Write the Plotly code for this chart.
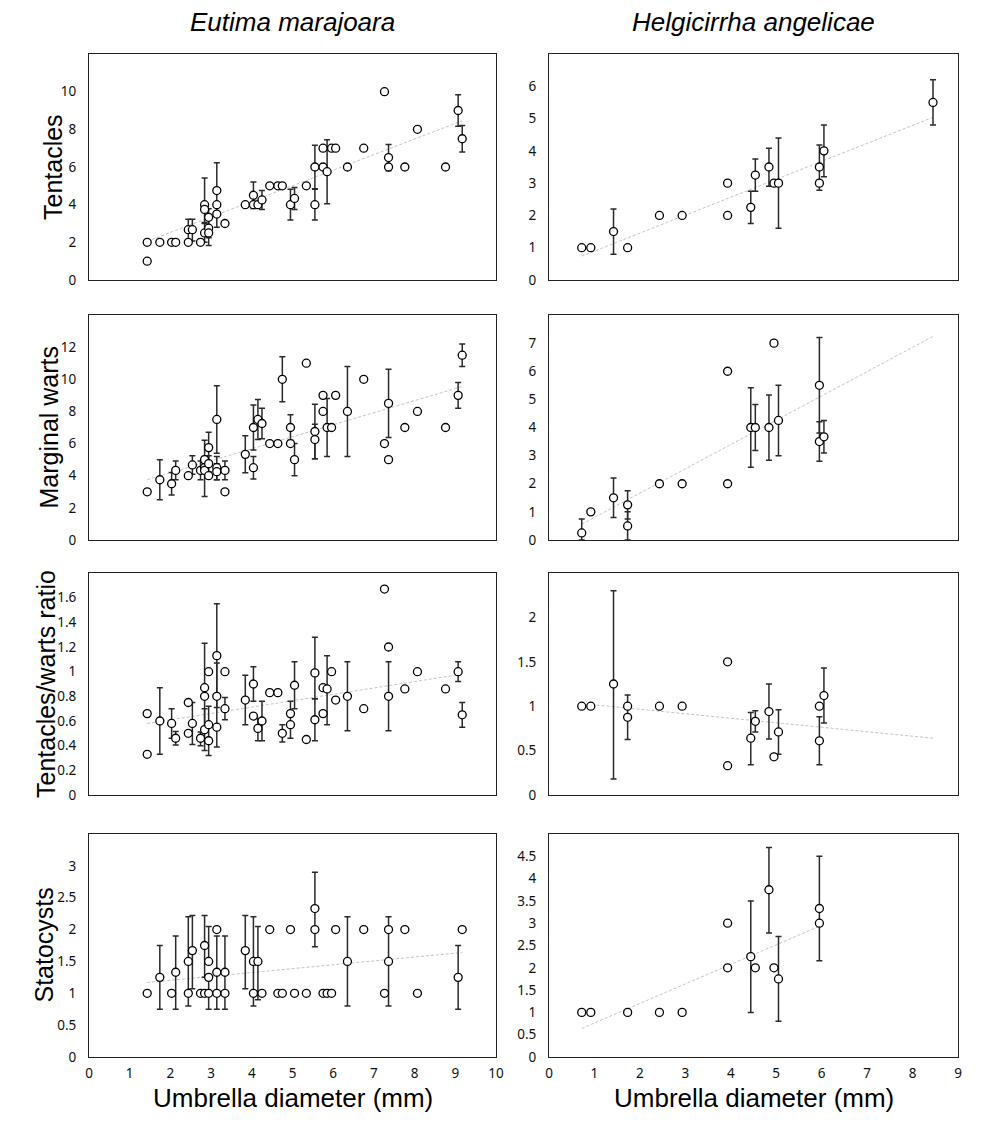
import plotly.graph_objects as go
import numpy as np

# ----------------------------- DATA -----------------------------
SPECIES = ["Eutima marajoara", "Helgicirrha angelicae"]
VARIABLES = ["Tentacles", "Marginal warts", "Tentacles/warts ratio", "Statocysts"]
X_TITLE = "Umbrella diameter (mm)"

# Eutima marajoara ------------------------------------------------
EM_TENT_X = [1.43, 1.43, 1.74, 2.03, 2.13, 2.44, 2.44, 2.54, 2.74, 2.84, 2.84, 2.84, 2.94, 2.94, 2.94,
             3.14, 3.14, 3.14, 3.34, 3.84, 4.04, 4.04, 4.15, 4.25, 4.44, 4.64, 4.75, 4.95, 5.05, 5.34,
             5.55, 5.55, 5.75, 5.75, 5.85, 5.96, 6.06, 6.35, 6.75, 7.26, 7.36, 7.36, 7.76, 8.07, 8.76,
             9.07, 9.17]
EM_TENT_Y = [2, 1, 2, 2, 2, 2, 2.67, 2.67, 2, 4, 3.75, 2.5, 3.33, 2.75, 2.5,
             4.75, 4, 3.5, 3, 4, 4.5, 4, 4, 4.25, 5, 5, 5, 4, 4.33, 5,
             6, 4, 7, 6, 5.75, 7, 7, 6, 7, 10, 6.5, 6, 6, 8, 6,
             9, 7.5]
EM_TENT_EP = [0, 0, 0, 0, 0, 0, 0.55, 0.55, 0, 0, 1.67, 0.55, 0.45, 0.5, 0,
              1.47, 0, 0.6, 0, 0, 0.7, 0, 0, 0.5, 0, 0, 0, 0.82, 0.58, 0,
              1.15, 0.82, 0, 0, 1.7, 0, 0, 0, 0, 0, 0.7, 0, 0, 0, 0,
              0.83, 0.7]
EM_TENT_EM = [0, 0, 0, 0, 0, 0, 0.67, 0.6, 0, 0, 0.75, 0.5, 1.5, 0.5, 0,
              0.8, 0, 0.7, 0, 0, 0.7, 0, 0, 0.5, 0, 0, 0, 0.82, 0.58, 0,
              1.15, 0.82, 0, 0, 1.7, 0, 0, 0, 0, 0, 0.7, 0, 0, 0, 0,
              0.83, 0.7]

EM_WART_X = [1.43, 1.74, 2.03, 2.13, 2.44, 2.54, 2.74, 2.84, 2.84, 2.84, 2.94, 2.94, 2.94,
             3.14, 3.14, 3.14, 3.34, 3.34, 3.84, 4.04, 4.04, 4.15, 4.25, 4.44, 4.64, 4.75,
             4.95, 4.95, 5.05, 5.34, 5.55, 5.55, 5.75, 5.75, 5.85, 5.96, 6.06, 6.35, 6.75,
             7.26, 7.36, 7.36, 7.76, 8.07, 8.76, 9.07, 9.17]
EM_WART_Y = [3, 3.75, 3.5, 4.33, 4, 4.67, 4.33, 5, 4.5, 4.33, 5.75, 4.75, 4,
             7.5, 4.5, 4.25, 4.33, 3, 5.33, 7, 4.5, 7.5, 7.25, 6, 6, 10,
             7, 6, 5, 11, 6.75, 6.25, 9, 8, 7, 7, 9, 8, 10,
             6, 8.5, 5, 7, 8, 7, 9, 11.5]
EM_WART_EP = [0, 1.25, 0.7, 0.58, 0, 0.58, 0.58, 1.2, 0.7, 0, 0.95, 0.5, 0,
              2.1, 0.7, 0.5, 0.58, 0, 1.15, 1.4, 0.7, 1.25, 0.95, 0, 0, 1.4,
              0.8, 0, 1.0, 0, 1.7, 0.95, 0, 0, 1.8, 0, 0, 2.8, 0,
              0, 2.12, 0, 0, 0, 0, 0.8, 0.7]
EM_WART_EM = [0, 1.25, 0.7, 0.58, 0, 0.58, 0.58, 0.25, 1.8, 0, 0.95, 0.5, 0,
              2.1, 0.75, 0.5, 0.58, 0, 1.15, 1.4, 0.7, 1.25, 0.95, 0, 0, 1.4,
              0.8, 0, 1.0, 0, 1.7, 1.2, 0, 0, 1.8, 0, 0, 2.8, 0,
              0, 2.12, 0, 0, 0, 0, 0.8, 0.7]

EM_RAT_X = [1.43, 1.43, 1.74, 2.03, 2.13, 2.44, 2.44, 2.54, 2.74, 2.84, 2.84, 2.84, 2.94, 2.94, 2.94,
            3.14, 3.14, 3.14, 3.34, 3.34, 3.84, 4.04, 4.04, 4.15, 4.25, 4.44, 4.64, 4.75, 4.95, 4.95,
            5.05, 5.34, 5.55, 5.55, 5.75, 5.75, 5.85, 5.96, 6.06, 6.35, 6.75, 7.26, 7.36, 7.36, 7.76,
            8.07, 8.76, 9.07, 9.17]
EM_RAT_Y = [0.66, 0.33, 0.6, 0.58, 0.46, 0.75, 0.5, 0.58, 0.46, 0.87, 0.8, 0.53, 1.0, 0.57, 0.44,
            1.13, 0.8, 0.55, 1.0, 0.7, 0.77, 0.9, 0.64, 0.54, 0.6, 0.83, 0.83, 0.5, 0.66, 0.57,
            0.89, 0.45, 0.99, 0.61, 0.87, 0.66, 0.86, 1.0, 0.77, 0.8, 0.7, 1.67, 1.2, 0.8, 0.86,
            1.0, 0.86, 1.0, 0.65]
EM_RAT_EP = [0, 0, 0.27, 0.12, 0.055, 0, 0, 0.17, 0.05, 0.36, 0, 0.17, 0, 0.15, 0,
             0.42, 0.27, 0, 0, 0.09, 0.2, 0.14, 0, 0.08, 0.16, 0, 0, 0.07, 0.1, 0,
             0.19, 0, 0.29, 0.17, 0, 0, 0.27, 0, 0, 0.28, 0, 0, 0, 0.28, 0,
             0, 0, 0.08, 0.1]
EM_RAT_EM = [0, 0, 0.27, 0.12, 0.055, 0, 0, 0.17, 0.06, 0.36, 0, 0.17, 0, 0.25, 0,
             0.42, 0.41, 0, 0, 0.09, 0.2, 0.14, 0, 0.1, 0.16, 0, 0, 0.07, 0.1, 0.11,
             0.19, 0, 0.21, 0.17, 0, 0, 0.29, 0, 0, 0.28, 0, 0, 0, 0.28, 0,
             0, 0, 0.08, 0.1]

EM_STAT_X = [1.43, 1.74, 2.03, 2.13, 2.44, 2.44, 2.54, 2.74, 2.84, 2.84, 2.94, 2.94, 2.94,
             3.14, 3.14, 3.14, 3.34, 3.34, 3.84, 4.04, 4.04, 4.15, 4.25, 4.44, 4.64, 4.75,
             4.95, 5.05, 5.34, 5.55, 5.55, 5.75, 5.85, 5.96, 6.06, 6.35, 6.75, 7.26, 7.36,
             7.36, 7.76, 8.07, 9.07, 9.17]
EM_STAT_Y = [1, 1.25, 1, 1.33, 1.5, 1, 1.67, 1, 1.75, 1, 1.5, 1.25, 1,
             2, 1.33, 1, 1.33, 1, 1.67, 1.5, 1, 1.5, 1, 2, 1, 1,
             2, 1, 1, 2.33, 2, 1, 1, 1, 2, 1.5, 2, 1, 2,
             1.5, 2, 1, 1.25, 2]
EM_STAT_EP = [0, 0.5, 0, 0.57, 0.7, 0, 0.55, 0, 0.47, 0, 0.55, 0, 0,
              0, 0.57, 0, 0.57, 0, 0.55, 0.7, 0, 0.55, 0, 0, 0, 0,
              0, 0, 0, 0.57, 0, 0, 0, 0, 0, 0.7, 0, 0, 0,
              0.7, 0, 0, 0.5, 0]
EM_STAT_EM = [0, 0.5, 0, 0.58, 0.7, 0, 0.6, 0, 0.5, 0, 0, 0.5, 0,
              0, 0.58, 0, 0.58, 0, 0.6, 0.7, 0, 0.6, 0, 0, 0, 0,
              0, 0, 0, 0.6, 0, 0, 0, 0, 0, 0.7, 0, 0, 0,
              0.7, 0, 0, 0.5, 0]

# Helgicirrha angelicae -------------------------------------------
HA_TENT_X = [0.72, 0.92, 1.42, 1.73, 2.43, 2.93, 3.93, 3.93, 4.44, 4.54, 4.84, 4.95, 5.05, 5.95, 5.95, 6.05, 8.45]
HA_TENT_Y = [1, 1, 1.5, 1, 2, 2, 3, 2, 2.25, 3.25, 3.5, 3, 3, 3.5, 3, 4, 5.5]
HA_TENT_EP = [0, 0, 0.7, 0, 0, 0, 0, 0, 0.5, 0.5, 0.58, 0, 1.4, 0.68, 0, 0.8, 0.7]
HA_TENT_EM = [0, 0, 0.7, 0, 0, 0, 0, 0, 0.5, 0.5, 0.6, 0, 1.4, 0.72, 0, 0.8, 0.7]

HA_WART_X = [0.72, 0.92, 1.42, 1.73, 1.73, 2.43, 2.93, 3.93, 3.93, 4.44, 4.54, 4.84, 4.95, 5.05, 5.95, 5.95, 6.05]
HA_WART_Y = [0.25, 1, 1.5, 1.25, 0.5, 2, 2, 6, 2, 4, 4, 4, 7, 4.25, 5.5, 3.5, 3.67]
HA_WART_EP = [0.5, 0, 0.7, 0.5, 0.5, 0, 0, 0, 0, 1.41, 0.82, 1.16, 0, 1.25, 1.7, 0.7, 0.58]
HA_WART_EM = [0.25, 0, 0.7, 0.5, 0.5, 0, 0, 0, 0, 1.41, 0.82, 1.16, 0, 1.25, 1.7, 0.7, 0.58]

HA_RAT_X = [0.72, 0.92, 1.42, 1.73, 1.73, 2.43, 2.93, 3.93, 3.93, 4.44, 4.54, 4.84, 4.95, 5.05, 5.95, 5.95, 6.05]
HA_RAT_Y = [1, 1, 1.25, 1.0, 0.875, 1, 1, 1.5, 0.33, 0.64, 0.83, 0.94, 0.43, 0.71, 1.0, 0.61, 1.12]
HA_RAT_EP = [0, 0, 1.05, 0, 0.25, 0, 0, 0, 0, 0.29, 0.12, 0.31, 0, 0.25, 0, 0.27, 0.31]
HA_RAT_EM = [0, 0, 1.07, 0, 0.25, 0, 0, 0, 0, 0.3, 0.12, 0.31, 0, 0.25, 0, 0.27, 0.31]

HA_STAT_X = [0.72, 0.92, 1.73, 2.43, 2.93, 3.93, 3.93, 4.44, 4.54, 4.84, 4.95, 5.05, 5.95, 5.95]
HA_STAT_Y = [1, 1, 1, 1, 1, 3, 2, 2.25, 2, 3.75, 2, 1.75, 3.33, 3]
HA_STAT_EP = [0, 0, 0, 0, 0, 0, 0, 1.25, 0, 0.95, 0, 0.95, 1.17, 0]
HA_STAT_EM = [0, 0, 0, 0, 0, 0, 0, 1.25, 0, 0.97, 0, 0.95, 1.17, 0]

# Linear trend lines (slope, intercept)
EM_TREND = [(0.827, 0.87), (0.749, 2.68), (0.0517, 0.506), (0.0607, 1.083)]
HA_TREND = [(0.556, 0.34), (0.864, -0.062), (-0.0505, 1.066), (0.438, 0.325)]

# Axis ranges and tick labels
EM_X_TICKS = [0, 1, 2, 3, 4, 5, 6, 7, 8, 9, 10]
HA_X_TICKS = [0, 1, 2, 3, 4, 5, 6, 7, 8, 9]
EM_Y_MAX = [12, 14, 1.8, 3.5]
HA_Y_MAX = [7, 8, 2.5, 5]
EM_Y_TICKS = [[0, 2, 4, 6, 8, 10], [0, 2, 4, 6, 8, 10, 12],
              [0, 0.2, 0.4, 0.6, 0.8, 1, 1.2, 1.4, 1.6], [0, 0.5, 1, 1.5, 2, 2.5, 3]]
EM_Y_LABELS = [["0", "2", "4", "6", "8", "10"], ["0", "2", "4", "6", "8", "10", "12"],
               ["0", "0.2", "0.4", "0.6", "0.8", "1", "1.2", "1.4", "1.6"],
               ["0", "0.5", "1", "1.5", "2", "2.5", "3"]]
HA_Y_TICKS = [[0, 1, 2, 3, 4, 5, 6], [0, 1, 2, 3, 4, 5, 6, 7],
              [0, 0.5, 1, 1.5, 2], [0, 0.5, 1, 1.5, 2, 2.5, 3, 3.5, 4, 4.5]]
HA_Y_LABELS = [["0", "1", "2", "3", "4", "5", "6"], ["0", "1", "2", "3", "4", "5", "6", "7"],
               ["0", "0.5", "1", "1.5", "2"],
               ["0", "0.5", "1", "1.5", "2", "2.5", "3", "3.5", "4", "4.5"]]

# ----------------------------- FIGURE -----------------------------
W, H = 998, 1129
COLS = [(89, 496), (549, 958)]
ROWS = [(54, 280), (315, 540), (573, 795), (834, 1057)]
YTITLE_X = [53, 49, 46, 43]

panels = {
    0: [(EM_TENT_X, EM_TENT_Y, EM_TENT_EP, EM_TENT_EM),
        (EM_WART_X, EM_WART_Y, EM_WART_EP, EM_WART_EM),
        (EM_RAT_X, EM_RAT_Y, EM_RAT_EP, EM_RAT_EM),
        (EM_STAT_X, EM_STAT_Y, EM_STAT_EP, EM_STAT_EM)],
    1: [(HA_TENT_X, HA_TENT_Y, HA_TENT_EP, HA_TENT_EM),
        (HA_WART_X, HA_WART_Y, HA_WART_EP, HA_WART_EM),
        (HA_RAT_X, HA_RAT_Y, HA_RAT_EP, HA_RAT_EM),
        (HA_STAT_X, HA_STAT_Y, HA_STAT_EP, HA_STAT_EM)],
}
trends = {0: EM_TREND, 1: HA_TREND}
# x-span of each trend line (E. marajoara uses the panel data; H. angelicae warts/ratio span all specimens)
trend_span_src = {0: [EM_TENT_X, EM_WART_X, EM_RAT_X, EM_STAT_X],
                  1: [HA_TENT_X, HA_TENT_X, HA_TENT_X, HA_STAT_X]}
x_ticks = {0: EM_X_TICKS, 1: HA_X_TICKS}
y_max = {0: EM_Y_MAX, 1: HA_Y_MAX}
y_ticks = {0: EM_Y_TICKS, 1: HA_Y_TICKS}
y_labels = {0: EM_Y_LABELS, 1: HA_Y_LABELS}

fig = go.Figure()
layout = {}
TICK_FONT = dict(family="Noto Sans", size=13.5, color="#111")
ERR_COLOR = "#2a2a2a"

for c in range(2):
    for r in range(4):
        k = r * 2 + c + 1
        xa = "x" if k == 1 else f"x{k}"
        ya = "y" if k == 1 else f"y{k}"
        xs, ys, ep, em = [np.array(a, dtype=float) for a in panels[c][r]]
        slope, icpt = trends[c][r]
        span = np.array(trend_span_src[c][r], dtype=float)
        tx = np.array([span.min(), span.max()])
        fig.add_trace(go.Scatter(x=tx, y=slope * tx + icpt, mode="lines", xaxis=xa, yaxis=ya,
                                 line=dict(color="#c4c4c4", width=1, dash="3px,2px"),
                                 hoverinfo="skip", showlegend=False))
        m = (ep > 0) | (em > 0)
        fig.add_trace(go.Scatter(x=xs[m], y=ys[m], mode="markers", xaxis=xa, yaxis=ya,
                                 marker=dict(size=1, color="rgba(0,0,0,0)"),
                                 error_y=dict(type="data", symmetric=False, array=ep[m], arrayminus=em[m],
                                              color=ERR_COLOR, thickness=1.5, width=3),
                                 hoverinfo="skip", showlegend=False))
        fig.add_trace(go.Scatter(x=xs, y=ys, mode="markers", xaxis=xa, yaxis=ya,
                                 marker=dict(size=8, color="white", line=dict(color="black", width=1.3)),
                                 showlegend=False))
        x0, x1 = COLS[c]
        y0, y1 = ROWS[r]
        xt = x_ticks[c]
        layout["xaxis" if k == 1 else f"xaxis{k}"] = dict(
            domain=[x0 / W, x1 / W], range=[xt[0], xt[-1]], anchor=ya,
            tickmode="array", tickvals=xt, ticktext=[str(v) for v in xt],
            showticklabels=(r == 3), ticks="", showgrid=False, zeroline=False,
            showline=True, mirror=True, linecolor="#222", linewidth=1,
            tickfont=TICK_FONT, ticklabelstandoff=4, automargin=False)
        layout["yaxis" if k == 1 else f"yaxis{k}"] = dict(
            domain=[1 - y1 / H, 1 - y0 / H], range=[0, y_max[c][r]], anchor=xa,
            tickmode="array", tickvals=y_ticks[c][r], ticktext=y_labels[c][r],
            ticks="", showgrid=False, zeroline=False,
            showline=True, mirror=True, linecolor="#222", linewidth=1,
            tickfont=TICK_FONT, ticklabelstandoff=9, automargin=False)

annotations = []
TITLE_FONT = dict(family="Liberation Sans, Arial, sans-serif", size=26, color="black")
for c, name in enumerate(SPECIES):
    cx = (COLS[c][0] + COLS[c][1]) / 2
    annotations.append(dict(text=f"<i>{name}</i>", x=cx / W, y=1 - 22 / H, xref="paper", yref="paper",
                            showarrow=False, xanchor="center", yanchor="middle", font=TITLE_FONT))
    annotations.append(dict(text=X_TITLE, x=cx / W, y=1 - 1098 / H, xref="paper", yref="paper",
                            showarrow=False, xanchor="center", yanchor="middle", font=TITLE_FONT))
for r, name in enumerate(VARIABLES):
    cy = (ROWS[r][0] + ROWS[r][1]) / 2
    annotations.append(dict(text=name, x=YTITLE_X[r] / W, y=1 - cy / H, xref="paper", yref="paper",
                            showarrow=False, xanchor="center", yanchor="middle", textangle=-90,
                            font=dict(family="Liberation Sans, Arial, sans-serif", size=25, color="black")))

fig.update_layout(width=W, height=H, margin=dict(l=0, r=0, t=0, b=0),
                  paper_bgcolor="white", plot_bgcolor="white",
                  annotations=annotations, showlegend=False, **layout)

fig.write_html("out.html")
